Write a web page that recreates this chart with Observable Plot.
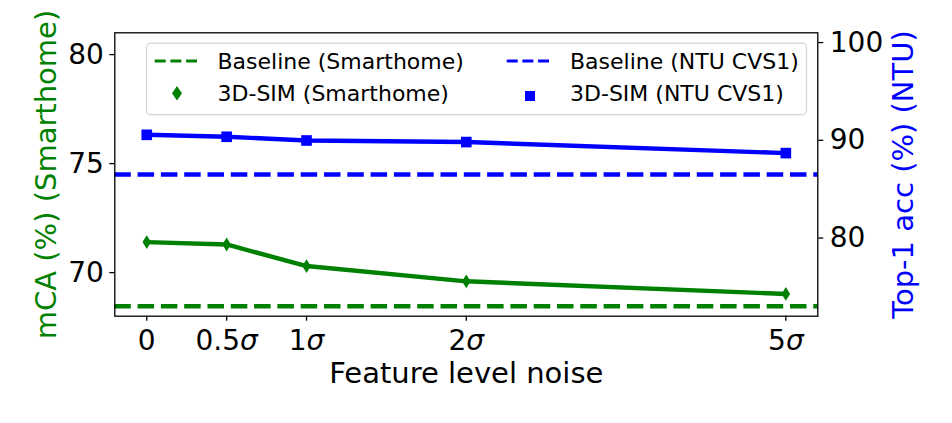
<!DOCTYPE html>
<html><head><meta charset="utf-8">
<script src="https://cdn.jsdelivr.net/npm/d3@7"></script>
<script src="https://cdn.jsdelivr.net/npm/@observablehq/plot@0.6"></script>
<style>
html,body{margin:0;padding:0;background:#fff;}
#wrap{position:relative;width:952px;height:423px;font-family:"DejaVu Sans",sans-serif;}
#legend{position:absolute;left:0;top:0;pointer-events:none;}
</style></head><body><div id="wrap"></div>
<script>
// ---- data ----
const noiseLabels = ["0", "0.5σ", "1σ", "2σ", "5σ"];
const noisePos = [0, 0.5, 1, 2, 4];
const smarthome3DSIM = [71.40, 71.29, 70.30, 69.60, 69.02];
const ntu3DSIM = [90.56, 90.36, 89.98, 89.82, 88.69];
const smarthomeBaseline = 68.46;
const ntuBaseline = 86.50;
const leftDomain = [68, 81];
const rightDomain = [72, 101];
const leftTicks = [70, 75, 80];
const rightTicks = [80, 90, 100];
const seriesNames = ["Baseline (Smarthome)", "3D-SIM (Smarthome)", "Baseline (NTU CVS1)", "3D-SIM (NTU CVS1)"];
const xLabel = "Feature level noise";
const yLeftLabel = "mCA (%) (Smarthome)";
const yRightLabel = "Top-1 acc (%) (NTU)";

const GREEN = "#008000", BLUE = "#0000ff";
const k = (leftDomain[1] - leftDomain[0]) / (rightDomain[1] - rightDomain[0]);
const toLeft = v => leftDomain[0] + (v - rightDomain[0]) * k;
const toRight = v => rightDomain[0] + (v - leftDomain[0]) / k;

const smData = noisePos.map((x, i) => ({x, y: smarthome3DSIM[i]}));
const ntuData = noisePos.map((x, i) => ({x, y: toLeft(ntu3DSIM[i])}));

const thinDiamond = {draw(ctx, size) {
  const r = Math.sqrt(size / Math.PI), w = r * 0.62;
  ctx.moveTo(0, -r); ctx.lineTo(w, 0); ctx.lineTo(0, r); ctx.lineTo(-w, 0); ctx.closePath();
}};

const FL = 114.3, FR = 817.3, FT = 32.3, FB = 315.7;
const dash = "16.5,6.8";

const chart = Plot.plot({
  width: 952, height: 423,
  marginLeft: FL, marginRight: 952 - FR, marginTop: FT, marginBottom: 423 - FB,
  style: {fontFamily: '"DejaVu Sans", sans-serif', fontSize: "28px", background: "transparent", color: "#000"},
  x: {domain: [-0.2, 4.2]},
  y: {domain: leftDomain},
  marks: [
    Plot.ruleY([smarthomeBaseline], {stroke: GREEN, strokeWidth: 4.5, strokeDasharray: dash}),
    Plot.ruleY([toLeft(ntuBaseline)], {stroke: BLUE, strokeWidth: 4.5, strokeDasharray: dash}),
    Plot.line(smData, {x: "x", y: "y", stroke: GREEN, strokeWidth: 4.4}),
    Plot.dot(smData, {x: "x", y: "y", symbol: thinDiamond, r: 6.9, fill: GREEN, stroke: "none"}),
    Plot.line(ntuData, {x: "x", y: "y", stroke: BLUE, strokeWidth: 4.4}),
    Plot.dot(ntuData, {x: "x", y: "y", symbol: "square", r: 6.0, fill: BLUE, stroke: "none"}),
    Plot.axisX({ticks: noisePos, tickFormat: d => noiseLabels[noisePos.indexOf(d)], tickSize: 5, tickPadding: 9, fontSize: 28, strokeWidth: 1.3, label: null}),
    Plot.axisY({anchor: "left", ticks: leftTicks, tickFormat: d => String(d), tickSize: 5, tickPadding: 6, fontSize: 28, strokeWidth: 1.3, label: null}),
    Plot.axisY({anchor: "right", ticks: rightTicks.map(toLeft), tickFormat: d => String(Math.round(toRight(d))), tickSize: 5, tickPadding: 7, fontSize: 28, strokeWidth: 1.3, label: null}),
    Plot.text([xLabel], {text: d => d, frameAnchor: "bottom", lineAnchor: "bottom", dy: 67, fontSize: 29, fill: "#000"}),
    Plot.text([yLeftLabel], {text: d => d, frameAnchor: "left", textAnchor: "middle", rotate: -90, lineAnchor: "bottom", dx: -58.5, fontSize: 29, fill: GREEN}),
    Plot.text([yRightLabel], {text: d => d, frameAnchor: "right", textAnchor: "middle", rotate: -90, lineAnchor: "bottom", dx: 95.4, fontSize: 29, fill: BLUE}),
    Plot.frame({stroke: "#000", strokeWidth: 1.3})
  ]
});

// italic sigma in x tick labels (mathtext style)
chart.querySelectorAll('g[aria-label="x-axis tick label"] text').forEach(t => {
  const s = t.textContent;
  if (s.includes("σ")) {
    const parts = s.split("σ");
    t.textContent = "";
    const a = document.createElementNS("http://www.w3.org/2000/svg", "tspan");
    a.textContent = parts[0];
    const b = document.createElementNS("http://www.w3.org/2000/svg", "tspan");
    b.textContent = "σ";
    b.setAttribute("font-style", "italic");
    t.appendChild(a); t.appendChild(b);
  }
});

const wrap = document.getElementById("wrap");
wrap.appendChild(chart);

// legend overlay
const lg = `
<svg id="legend" width="952" height="423" xmlns="http://www.w3.org/2000/svg" font-family="DejaVu Sans, sans-serif" font-size="22">
  <rect x="146.5" y="43.2" width="660" height="71.5" rx="4" ry="4" fill="rgba(255,255,255,0.8)" stroke="#d6d6d6" stroke-width="1.2"/>
  <line x1="154.7" x2="197" y1="61" y2="61" stroke="${GREEN}" stroke-width="2.8" stroke-dasharray="11,4.7"/>
  <path d="M177,86 L182,93.3 L177,100.6 L172,93.3 Z" fill="${GREEN}"/>
  <text x="217.5" y="69.3" fill="#000">${seriesNames[0]}</text>
  <text x="217.5" y="101" fill="#000">${seriesNames[1]}</text>
  <line x1="506.7" x2="549" y1="61" y2="61" stroke="${BLUE}" stroke-width="2.8" stroke-dasharray="11,4.7"/>
  <rect x="525" y="91" width="10" height="10" fill="${BLUE}"/>
  <text x="570" y="69.3" fill="#000">${seriesNames[2]}</text>
  <text x="570" y="101" fill="#000">${seriesNames[3]}</text>
</svg>`;
wrap.insertAdjacentHTML("beforeend", lg);
</script>
</body></html>
